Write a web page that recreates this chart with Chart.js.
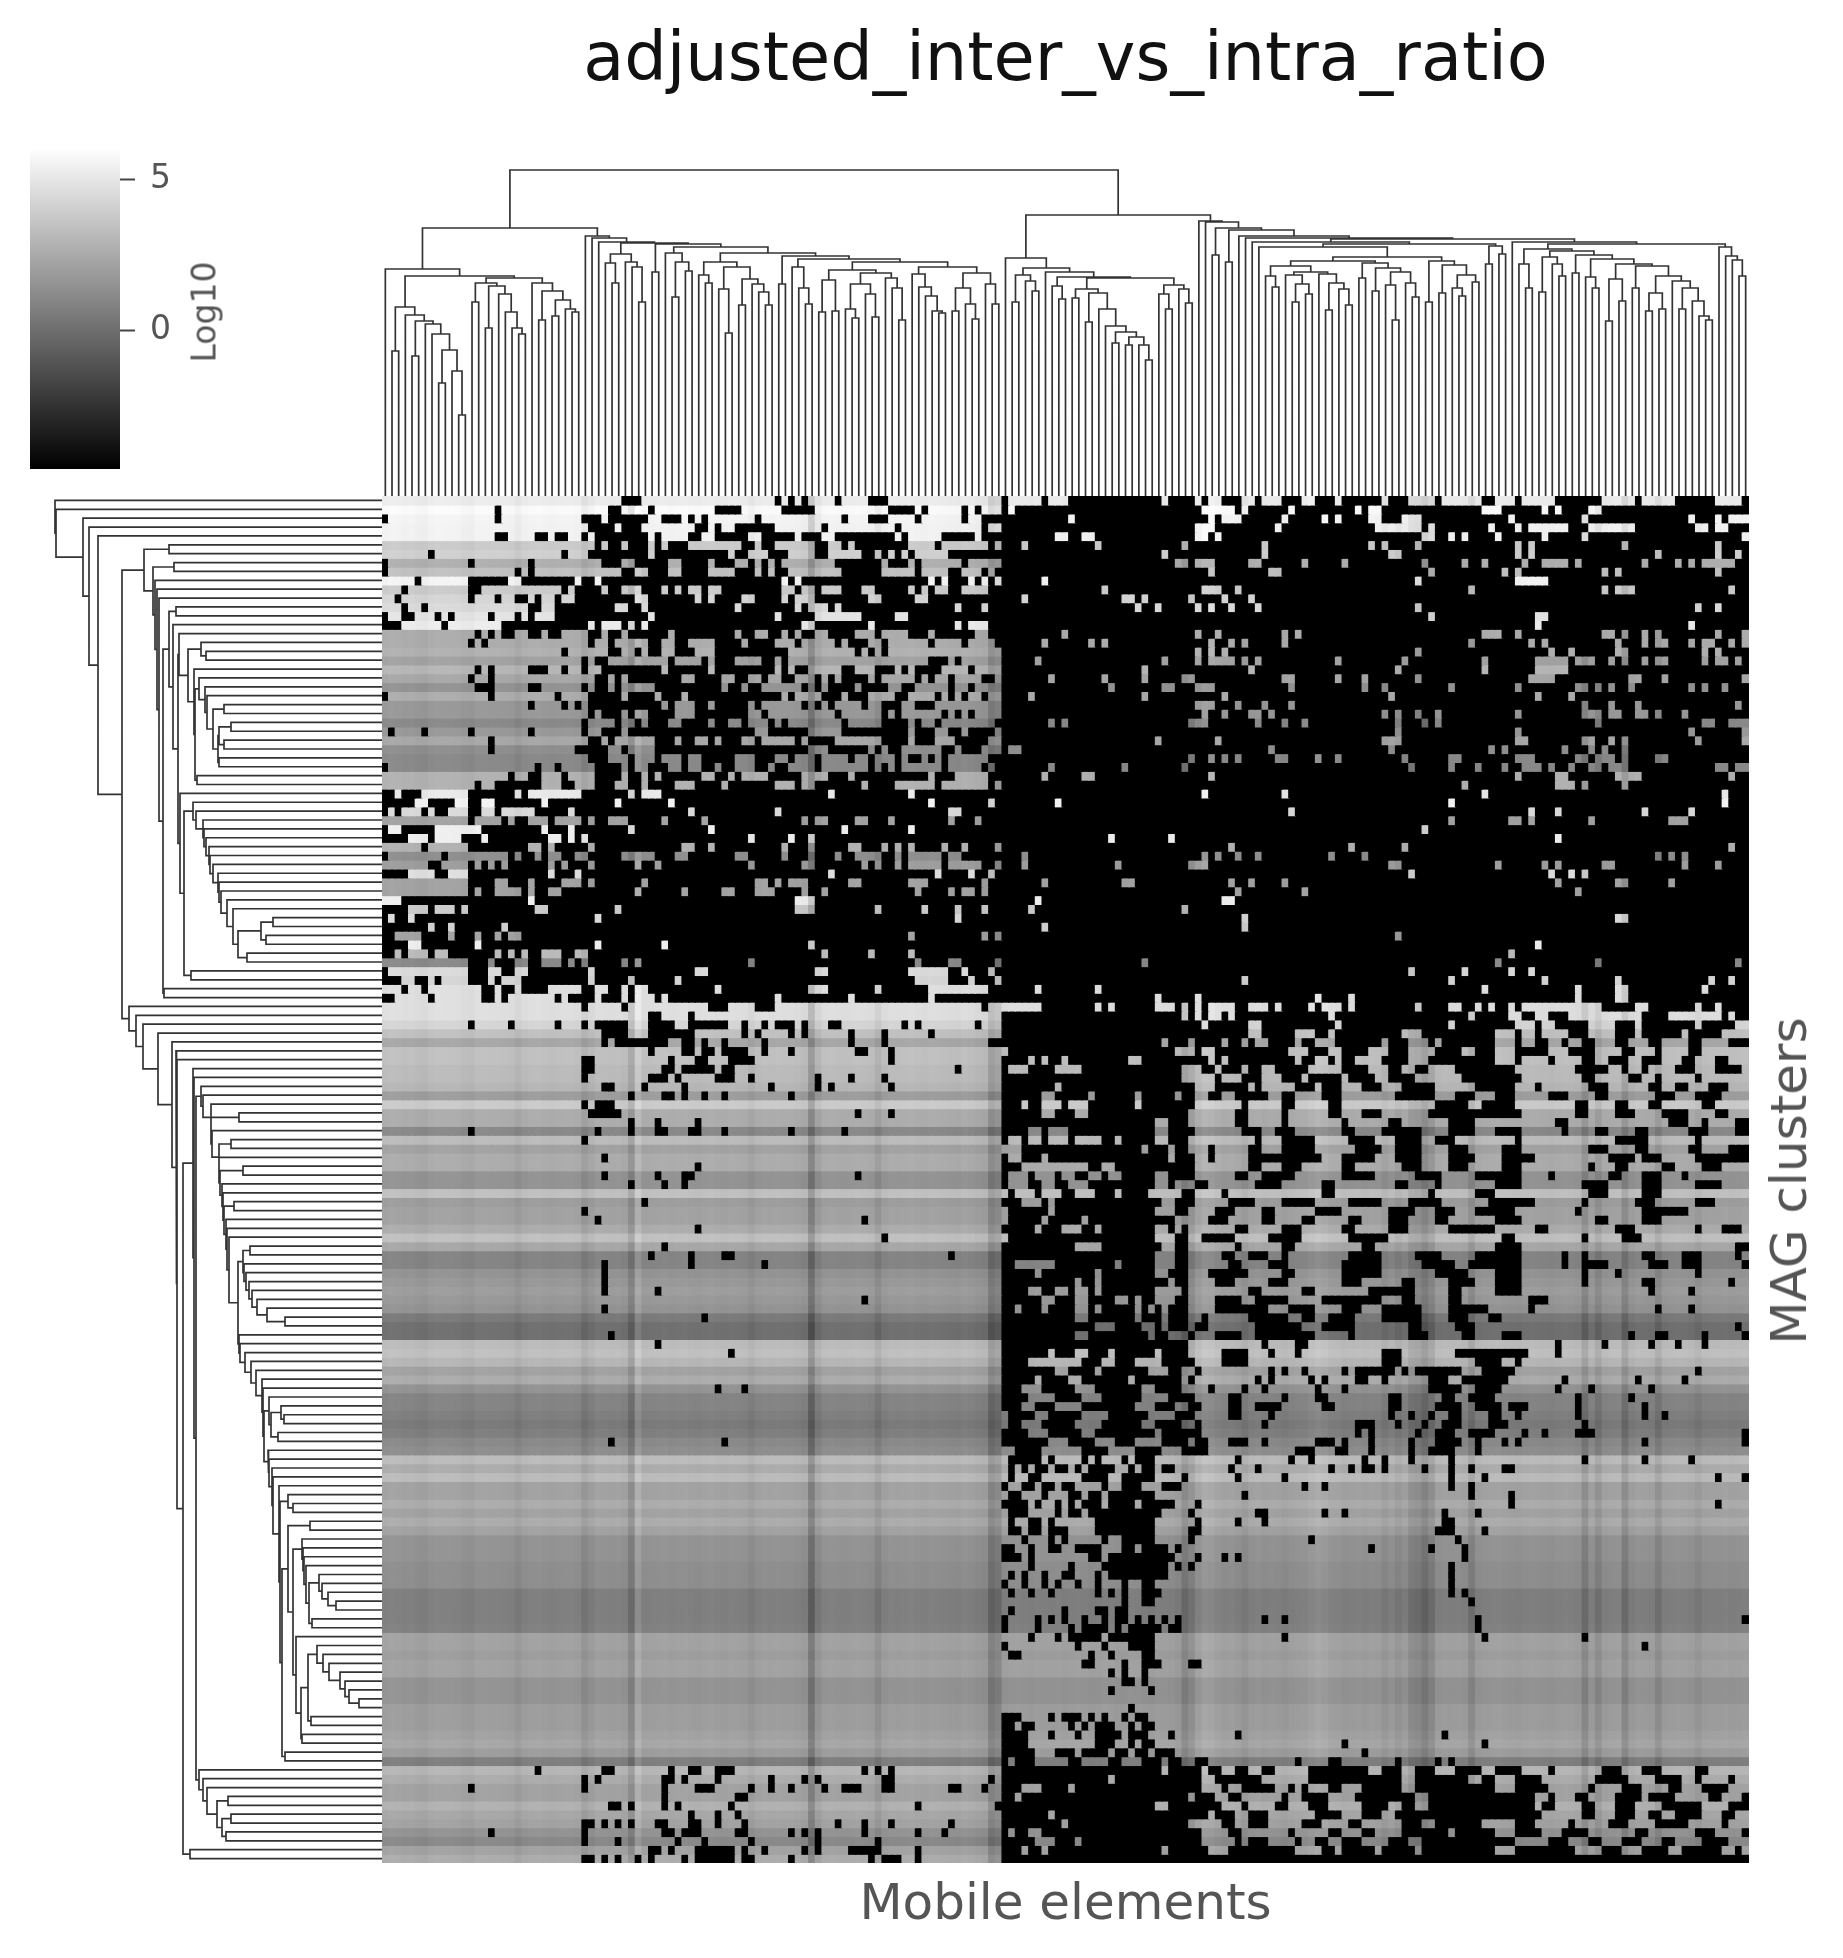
<!DOCTYPE html>
<html>
<head>
<meta charset="utf-8">
<title>adjusted_inter_vs_intra_ratio</title>
<script src="https://cdn.jsdelivr.net/npm/chart.js@4"></script>
<style>
  body { margin: 0; background: #fff; overflow: hidden; }
  canvas { position: absolute; }
  .side-label { position: absolute; color: #555; font-family: "DejaVu Sans"; white-space: nowrap; transform: translate(-50%, -50%) rotate(-90deg); }
</style>
</head>
<body>
<canvas id="heat" width="1843" height="1958" style="left:0;top:0"></canvas>
<canvas id="top-tree" width="1367" height="346" style="left:382px;top:150px"></canvas>
<canvas id="left-tree" width="342" height="1367" style="left:40px;top:496px"></canvas>
<canvas id="colorbar" width="160" height="342" style="left:30px;top:138px"></canvas>
<div class="side-label" style="left:204px;top:312px;font-size:33px">Log10</div>
<div class="side-label" style="left:1789px;top:1181px;font-size:50px">MAG clusters</div>
<script>
const titleText = "adjusted_inter_vs_intra_ratio";
const xTitle = "Mobile elements";
const colorbarTicks = [5, 0];
const colorbarMin = -4.57;
const colorbarMax = 6.03;

//Grey shade of each row (154 MAG clusters)
const rowShade = [
  238,252,246,244,244,205,210,178,195,245, 205,215,220,230,238,175,175,180,165,185,
  170,150,175,155,155,140,155,170,145,140, 140,180,180,235,245,220,165,240,240,180,
  145,160,225,165,165,240,205,220,210,165, 240,190,140,220,215,225,225,225,225,
  215,195,170,195,195,190,190,185,160,205, 175,175,140,190,165,175,175,150,150,195,
  160,165,165,175,195,170,135,135,150,155, 160,155,150,125,115,115,190,195,185,165,
  175,150,135,135,130,125,130,140,145,190, 175,190,165,165,175,165,175,165,150,150,
  150,145,145,145,130,130,130,130,132,165, 165,160,165,165,150,150,150,160,160,160,
  165,170,160,130, 185,175,165,165,180,170,165,150,140,165,175
];

//How much lighter or darker each column is than its row (205 mobile elements)
const colShade = [
  -2,0,-1,-3,-2,-5,-6,-2,0,-1,-1,-2,-5,-6,-1,-1,-2,-2,-3,-4,
  -10,-4,-2,-1,-3,-4,-3,-2,-2,-4,-15,-8,-2,-3,-4,-3,-6,-25,10,-4,
  -3,-2,-1,-3,-2,-1,-3,-4,-2,-1,-3,-4,-2,-3,-4,-10,-4,-2,-3,-2,
  -3,-3,-5,-8,-40,-12,-3,-2,-3,-4,-3,-2,-3,-5,-16,-5,-2,-3,-2,-1,
  -3,-4,-2,-3,-4,-5,-6,-3,-5,-8,-10,-35,-28,-6,-4,-3,-4,-5,-3,-4,
  -4,-3,-5,-4,-3,-4,-6,-5,-3,-4,-6,-5,-3,-4,-6,-7,-4,-5,-6,-10,
  -28,-18,-2,6,4,-1,-4,-3,-6,-12,-5,-3,-6,-4,-5,-8,-5,-3,-2,2,
  6,3,-2,-3,-6,-5,-4,-6,-4,-5,-12,-6,-14,-8,-22,-25,-35,-24,-6,-4,
  -5,-4,-6,-22,-6,-4,-3,-2,-4,-5,-6,-4,-3,-4,-5,-6,-4,-3,-4,-6,
  -25,-6,-20,-6,-4,-3,-25,-8,-4,-5,-6,-20,-6,-4,-3,-4,-6,-12,-5,-4,
  -4,-3,-5,-4,-3
];

//Cells at the bottom of the colour scale, one string per row, as column spans
const blackRuns = [
  "36-38 59 61 63 68 73-75 93 99 103-116 118-121 123 126-128 131 135-137 140-142 144-149 151-153 158 165-166 170 176-182 188 194-199 204",
  "17 34-35 40 50-53 60-64 76-79 81 87 89 93-204",
  "0 17 30-32 34-39 42-44 46 48 56 69 73-75 80 87 90-204",
  "31-34 36-38 47-48 50 53-58 66 77 90 93-204",
  "17-18 23-24 26-27 30 32-39 41 46-47 50-54 57-61 63-65 68-76 78 84-88 90-204",
  "32 34-35 37-39 41 43-45 54-55 57-58 65-66 69 71-78 83 91 93-204",
  "7 27 31-39 41-51 53-54 58-60 65-66 72-73 75 77 79 85-204",
  "0 13 22 33-35 38-42 45-48 50-52 55 57 59 68-74 76-78 80 87 93-204",
  "0 20 22 36-37 40-42 45-48 53-55 57 59-60 69-74 80 85-86 90 92-204",
  "5 13-18 21-28 30-31 33-59 61 63-81 83 85-87 89 91 93-204",
  "3 13-14 27 29-32 34-35 39-41 43 45 48 51-59 62 65 69-71 74-78 80 82 85-86 91-204",
  "2 13 17 20-21 23 26 29-37 40-46 48 50-53 56-59 61 65-72 75-79 82-204",
  "3 6 22-23 26-34 37-38 40-52 54-61 63 67 69-85 87-89 91-204",
  "0 3-4 8 10 16 20 22 26-39 41-58 60-64 72-76 79-204",
  "0-2 9 18-30 32 36 38 40-62 65-72 74-85 87 91-204",
  "14 16 18-19 22-23 25-26 31-32 34-35 37-42 44-52 54-55 58-59 61 63-64 67-70 74 79-81 83-88 91-204",
  "13 15 31 34 40-41 44-45 50-53 55-58 62 68 70-72 75 82 87 92-204",
  "27 34-35 38 40-41 44-46 50-60 71 73 75 93-204",
  "30 32-33 43 48 50-52 57-58 60 82-84 86 93-204",
  "14 16 22-24 27 30 33-41 43-48 50-58 60 62-63 69-70 74-76 78 80-83 88 93-204",
  "13 16 32-33 35 37-40 41-44 47-50 53-54 57 60-61 65 67 69-72 74 80 82 85 90-91 93-204",
  "14-16 22-23 30 32-33 35 41-50 52-53 55-56 63 65 67-70 72-75 78-79 85 88 93-204",
  "0 16 26 31-35 37-40 42-44 46-59 61 66-68 70-72 77-78 83 85 87 90 93-204",
  "22 27 29 31-41 43 47-48 50-54 56 63 65 67 72 75-77 80-82 93-204",
  "31 33-35 37 40-43 47-54 57 68 75 77 84 86 88 93-204",
  "30 35 38 40-42 45-48 50-51 54 58 60 69 75-78 80 83 92-204",
  "1 6 13 22 30 33-35 37-55 58-63 69-78 80-82 85-86 88-91 93-204",
  "16 31-32 34 41-43 45-46 49 51-53 56 62 64-67 75-78 80-82 86-90 93-204",
  "16 29-33 36 41-50 51-61 62-63 67-72 74 76-77 84-85 87-89 93-204",
  "31-33 37 41 45 48-52 56-58 61 65 70 73 77 79-80 82 84 91-204",
  "0 23 26 32-35 37 40-42 45 48-49 51-52 56-57 59-60 65 73 75 77 84 90 92-204",
  "19 22-23 27 32-35 37-38 40 42-47 50-51 53 58-60 61-62 67-69 71-81 83-85 91-204",
  "14 17-23 27-28 32-34 37-38 40-43 47-50 52-58 62 65-71 73-76 83 91 93-204",
  "0-1 3-5 13-19 21 30-36 38 42-66 68-78 80-204",
  "0-4 7-10 13-14 17-23 25-34 36-42 44-81 83-90 92-204",
  "0 2 6 8-9 13-14 17 23-27 29-45 47-58 60-84 87-204",
  "13 18 20-21 25 30 32-33 37-41 43-47 49-62 64 67-70 73-75 77-84 86-88 90-204",
  "0 3-7 15-23 25-27 29-36 38-48 50-68 70-78 80-204",
  "0-3 7 12-14 16-24 27 29 31-54 56-60 62-63 65-204",
  "6 13-21 24 26-30 32-44 47-48 50-59 61-63 65-69 72-74 76 78 80-83 85-86 88-91 93-204",
  "0 9 19 21-22 24 27-28 31-35 41-43 46-52 55-59 61-63 65-67 69-70 75-76 78 84 87-204",
  "7-8 13 15 17 19-24 26 28-30 32-37 39-40 42-54 56-62 65-71 73 75-76 78 84 90-91 93-204",
  "0-3 8-9 13-24 26-28 30-66 68-82 84-87 89-90 92-204",
  "13-16 19-21 23-26 30 32-38 40-55 58 60 64-69 72-78 82-89 91-204",
  "13 15-16 21 23-24 27-37 39-44 46-50 53-55 59-62 64-65 67-79 81-84 86 89 91-204",
  "3-21 23-61 65-204",
  "0-3 7 11 13-22 25-34 36-61 65-73 75-80 82-85 87-89 91-204",
  "0 2-3 5-31 33-85 87-204",
  "0-6 8-9 11-17 19-204",
  "0-1 6-9 11-13 15-16 18 21-78 80-89 91 93-204",
  "0-3 6-13 15-31 33-41 43-63 65-204",
  "0-1 3 7 10-16 18 20 22-23 27-28 31-65 67-72 74-78 80-204",
  "13-15 17-19 22-23 27 29 31-35 37 39-54 56-79 81-84 87-91 93-204",
  "0 13-15 18-19 22-30 32-46 49-64 67-78 85-86 88-90 92-204",
  "0-2 5-6 8 13-15 17 21-26 27-30 32-36 38-43 45-79 85-87 89-91 93-204",
  "3 6 15-16 18-19 21-24 30-31 34-35 37 40-49 51-63 67-73 75-81 91-204",
  "0-1 7 15-16 18 26 28-31 33-35 37 41 43-58 60-69 71-81 83-204",
  "30 36 49-51 56-58 90 93-204",
  "40-41 46 93-204",
  "13 19 26 30 32-36 40-43 46-51 54 57 59-61 63 67-68 78 80 89 93-204",
  "33-36 40-46 54 56 61 63 70 75 82 93-204",
  "33 35-42 45-46 48 51 57 70 75 91-204",
  "40 45-46 48-49 51-54 57 61 71-72 76 93-204",
  "30-31 43 47-48 52-55 76 93-204",
  "30-31 42-43 45-49 51-52 86 93-204",
  "30 40-42 44 50-52 55 65 70 75 93-204",
  "33-34 39 45 58 65 67 76 93-204",
  "37 42-43 45 48 51 61 93-204",
  "30 32-34 93-204",
  "31-35 71 76 93-204",
  "37 41 47 93-204",
  "13 32 37 41-42 46-47 51 61 69 93-204",
  "30 93-204",
  "93-204",
  "33 93-204",
  "47 93-204",
  "33 41 45-46 71 93-204",
  "37 42 45 93-204",
  "93-204",
  "39 93-204",
  "30 93-204",
  "32 72 93-204",
  "47 93-204",
  "75 93-204",
  "42 93-204",
  "40 46 51-52 85 93-204",
  "33 46 57 93-204",
  "33 93-204",
  "33 93-204",
  "33 41 93-204",
  "72 93-204",
  "33 93-204",
  "48 93-204",
  "93-204",
  "34 93-204",
  "41 93-120 132 137-138 176 183 190 194 198",
  "52 93-99 101-103 106-108 110-115 117-120 126-129 133 137 150-152 161-171 176",
  "93-96 105-107 110-112 117-121 126-129 150-152 164-167 170",
  "93-100 103-106 108-114 118-119 122 133 135 138 144 146-148 149-151 153 155-157 158-161 165-169 197",
  "93-97 99-102 105-111 113-119 121 131 133 139 141 146-147 150 157-159 162-168 177 188 195",
  "50 54 93-95 99-103 107-113 116-119 124 129 132 140 144 157-161 164-167 176 181 190",
  "93-96 101-104 108-113 118-121 127-128 135 140-141 151-152 159-160 163-166 179 187",
  "93-95 98-100 105-112 116-118 121-122 127-128 131-134 141-142 151-152 158-161 164-167 169-171 179 189",
  "94-97 100-104 109-114 119-121 127-128 133 151 154 157 160-161 166-167 170 179 189 192",
  "94-95 99-103 108-113 116-119 122 132 146-148 152 156 159-161 166-168 180",
  "93-96 100-104 107-115 117-122 146 148 155 158-160 163-166 171 174 179-181 204",
  "34 51 93-99 103-106 110-112 117-120 122-123 127-129 132 140-142 144 148 154 158-161 164 168 170 189 204",
  "95-98 105-108 113-116 120-123 137-139 143-144 148 154 157-160 164",
  "94-98 100 105 107 111 113-115 128 136 139 147 150 154 160 180 189 196",
  "94 96 98-99 101-102 104 106-109 112 114-115 117-118 127 131 142 145 147-148 150 156 160 163 168-169",
  "94 97-98 105-108 111-115 120 128 135 160 165 200 204",
  "93 96-97 99-100 102-103 108 111-113 117-119 138 141 160 163",
  "94-95 99 103-104 106-107 109-115 129 163 169",
  "93-96 98 101 103 105-107 109-112 114-118 122 169 200",
  "94-96 101 103-104 106-116 121 131-132 141 144 159 164",
  "94 97-98 100 107-115 122 128 132 159-160",
  "94-95 97-98 100-102 107-115 121-122 158-160 165",
  "96 100 102 108 111-115 121 139 161",
  "93-94 97 100-101 104-107 111-112 114-117 119 148 157 162",
  "93-95 97 106-107 109-118 122 126 128 162",
  "97 103 108-117 119 121 160",
  "94 96 99 102-103 107 109-117 160",
  "93 96 99 101 104 107 111 114-115 160",
  "94 97 100 107 109 111 114-116 160 162",
  "111 114-115 163",
  "94 102 107-108 110-111",
  "93 98 100 102 105 108 110-111 113 115 117 119 132 135 164 204",
  "93 98 103 105-108 110 112-116 118-119 164",
  "97 101 103-107 109-115 135 165 180",
  "93 104 108 112-115 189",
  "94-95 106 109 114-115",
  "105-106 111 114-116 121-122",
  "109 111 114",
  "111-112 114",
  "109 115",
  "",
  "112",
  "93-95 100 102-104 106 108 111 113-114",
  "93-94 96-97 103 105 107-109 112 114-115",
  "93-96 100 104 107-110 112-114 118 128 159",
  "93-96 107-109 112 114-115 144 165",
  "93-97 101-103 105-108 110-111 113-114 116-118 147",
  "93-97 103-104 109-110 114-116 118-119 122-123 128 131 137 142-143 148 152 158-160 168",
  "23 33-34 43 46-47 50-52 72 74 76 93-204",
  "30 32 42-43 45 50 58 63 65 75-76 91 93-204",
  "13 30 42 47-49 55 58 61 66 69-71 75-76 85-86 90 93-204",
  "42 53-54 93-204",
  "34-35 37 42 44 52 80 92-204",
  "46 50 53 93-204",
  "30-31 33 35 37 41-42 46-47 50 54 68 72 76 85 93-204",
  "16 30 42-43 45-47 53-54 61 63 65 72 80 84 93-204",
  "30 35 44 48 55 65 74 93-204",
  "40-41 43 47-52 54 57 63 65 70-74 80 93-204",
  "30-31 33 35 38 40 45 47-52 54-55 61 73 75-77 80 93-204"
];

//Lit cells inside the black spans above, same format
const litRuns = [
  "",
  "94 123-127 129 136 146 148-149 165-167 174 176 181-182",
  "103 124 126-128 135 141 143 148-149 153-155 169 180 196 200 202-204",
  "122-123 124 134 149-155 157 166 170 172-177 181-187 197-198 200-201",
  "101-102 105-106 122-123 125 156-157 160 162 167 174 180 204",
  "96 107 120 132 148 150 155 170 172 186 200",
  "117 132 151-152 170 172 191 200 203",
  "119-120 122-124 130-131 138 144 156 162 165 171 174-177 179 189 194 196 198-202",
  "124 133-134 157 168 170 183 185 200",
  "99 155 170-174",
  "108 123-125 128 163 183 185-187 202",
  "96 111-112 114 121 126 130",
  "113 116 122 124 127 131 155 197 200",
  "157 173-174",
  "173 196",
  "102 122 125 135 137 165-167 170 183-184 186 189 191 200 204",
  "99 106 108 124 127 129 135 163 172 174 185 189 191-192 196 198-199 202 204",
  "122 124 126 155 175 178 185-186 198 200",
  "98 117 122 124-127 129 131 143 153 165 173-177 179-181 184 186 189 191-192 198 200-201 203",
  "114 130 152 165 173-177",
  "100 108 114 120-121 135-136 143 147 155 172-175 187-188 192 204",
  "109 117-118 122-124 136 147 150 160 170 179-180 182 184 187 196 198 201",
  "97 114 126 151 173 178",
  "122-124 128 132 136 180 184 188 203",
  "123 126 130-131 133 150 152 155 158 170 180-182 184-185 188-189 191 195",
  "100 102 121-123 131 135 138 152 156 158 182 198-199 202-204",
  "152 170 196 204",
  "116 125 150-152 170-171 180-181 184 186 197 204",
  "94-95 133 151 166 168 177 181 183 186",
  "121 124 126 128 134-135 140 143 153 160-161 170-172 179-180 182-184 186 191-192",
  "100 111 120 154 160 164 168 171-173 175 178 181-182 184-186 200-201 203-204",
  "99 105-106 124 170 176-177 185-188 202",
  "162 176-178 180 186",
  "123 135 165 201",
  "101 160 201",
  "136 172 176 189 196",
  "160 169-170 172 181 193-195",
  "156",
  "109 118 176",
  "127 145 153 202",
  "96 123 125 128 131 142 147 191 193 195",
  "96 110 121-123 151-152 167 174 176 183-184 195 200",
  "154 175 178 180",
  "99 111-112 127 130 135 176 185-186 193",
  "128 138 179",
  "98 126-127",
  "97 120",
  "129 185-186",
  "99 129",
  "152",
  "173",
  "169",
  "114 167 182 203",
  "154 162 169 172",
  "129 160 174 185 199 202",
  "98 107 165 179 185-186 198",
  "116 122 140 145 179 185-186",
  "93-98 107 109 116-118 120 122 124-127 130-132 134 139 141-143 145 155 160-161 164 166 169 171-182 188-189 197 200",
  "120 122 124-125 127 142 163 169-170 173-174 178-188 193-200 202",
  "123 130-131 143 160 170-172 174-175 181-184 188 197 203-204",
  "130-131 137-139 142 153-155 167-169 171-172 174-177 181-184 188 195 201-204",
  "117 121 126 129 131-132 137 140-142 150 154-156 158 167-169 171-172 175-176 178-179 182-184 187-189 192-195 198-201",
  "93 119-121 123-124 136-138 142-143 148-150 154-157 162-163 167-169 175-177 182-185 188-190 192-195 198-204",
  "97 99 102 112-113 124 126 137 140-141 143 146-149 154-156 167-169 171-174 176-179 182-183 187-188 192-194 197-199 202-204",
  "94-96 101-104 120-122 125 129 132-133 139-143 148-150 153-154 157-160 170-178 184-185 187-188 190-193 197-199 204",
  "120-124 126-128 132-134 138 144 149-150 155-161 171-179 182-186 189-190 192-196 198-204",
  "101 122-124 130 132-136 140 144-146 150-152 158-163 170-172 174-180 184-189 192-193 196-198 202-204",
  "99-100 106 113 119 122-123 126-127 133-134 137-140 144-151 158-160 164-166 170-174 178-181 184-190 194-196 201-204",
  "96 99-101 103-105 113 122-128 130-134 137-141 144-157 163-164 170-178 181-184 187-189 192-197 200-204",
  "99-100 104-105 121-127 130-134 136-141 144-146 150-156 171-178 181-184 188-191 196-199 202-204",
  "116-117 121-127 130-134 136-143 145-150 153-159 164-175 178-192 196-197 199-202",
  "97-98 100-102 116-117 122-128 132-133 137-143 146-149 156-159 164-166 171-176 178-181 184-187 190-195 199-202",
  "94-95 97-98 100-102 104-107 110 116-117 121-130 132-134 140-144 149-151 156-157 161-169 171-184 190-196 198-204",
  "93-95 114 118 121-123 125-129 132-134 140-145 150-151 156-159 163-167 171-180 184-187 190-195 198-201",
  "94-95 99 118 122-123 125-129 141-143 149-151 156-159 164-167 173-183 188 192-196",
  "96-105 108-109 122-129 132-134 138-143 146-152 156-159 163-167 171-180 182-184 187-191 194-197 201-204",
  "94-96 98-100 102-103 106-107 109-110 116-117 122-127 130-131 137-143 149-154 159-163 171-174 176-183 186-188 192-194 196-204",
  "94-96 99-100 103-105 116-117 119-121 124-130 135-140 143-151 154-157 159-166 171-179 184-188 192-196 201-204",
  "93 95-97 99-101 104-106 110 115-119 122-125 127-140 143-156 158-163 167-180 184-188 192-204",
  "96-98 100 117-118 122-126 131-134 140-144 150-153 159-165 173-179 181-187 191-196 200-204",
  "93 100 116-118 121-124 128-131 134-139 144-150 155-157 161-163 170-178 180-188 196-204",
  "93 99 105 119-123 127-131 134-137 140-144 147-150 154-157 160-166 171-181 184-188 192-204",
  "98 102-104 107 116-117 119 121-127 130-134 138-143 146-150 154-159 167-172 175-184 188-196 198-200 204",
  "93 116-118 121-122 128-132 138-144 151-167 170-179 181-185 189-204",
  "104-107 117-118 121-127 129-134 137-146 149-166 171-202",
  "116-118 121-125 128-129 133-134 136-144 150-154 159-163 171-176 178-179 181-188 191-194 198-202 204",
  "95-100 110 116-118 121-126 129-132 136-143 150-155 161-162 171-176 178-179 184-189 193-194 198-203",
  "98 107 116-117 121-123 130-134 137-143 150-157 163-166 171-179 181-184 186-196 198-204",
  "104 107 118 121-124 128-132 136-143 147-152 155-159 164-166 171-179 181-188 191-201 203-204",
  "97-98 101-102 104-105 107 116-119 121-129 132-137 140-147 155-159 162-166 171-180 181-189 191-195 197-204",
  "99-100 104-105 110-111 113 116-118 121-124 129-130 136-140 150-152 155-159 162-171 175-204",
  "95 99 104-105 107 113 115 117 121-124 133-135 140-143 147-149 156-159 166-171 173-190 192-195 197-204",
  "104-105 113 117 121-122 124-129 136-137 140-141 146-149 156-159 163-165 168-204",
  "107-109 114-115 117 121 124-130 138-140 146-153 156-160 164-180 181-196 197-202 204",
  "104-105 115 118-120 122-124 129-130 140-144 146-153 157-161 164-167 171-186 188-190 193-197 199-203",
  "","","","","","","","","","","","","","","","","","","","","","","","",
  "","","","","","","","","","","","","","","","","","","","","","","",
  "94 117 125-128 130-135 139-141 148-150 153-156 159 165-169 171-175 178-182 185-186 192-194 200-204",
  "117 123 126-127 130-131 134-138 148-149 153-154 158-160 165-166 171-174 176-182 186-188 192-196 199-204",
  "109 123-124 132-138 153-154 163-164 167-169 174-181 187-190 195-196 198-201 203-204",
  "96-98 103 123-125 127-128 134-135 137 139-141 144-146 153-154 167-169 175-180 182-185 189-192 195-197 202-204",
  "95 121 125-126 129-134 136-137 142-145 155-156 173-174 176-178 181-184 189 194-198 201-203",
  "116-117 126-128 130-133 136-138 142-146 151-152 155-156 173 176-179 182-184 188-191 198-201",
  "100 124 128-129 133-139 144-146 150-151 174-179 182-184 188-189 192-193 198-200 203-204",
  "102 121-125 128-129 133-137 141-144 147-152 156-157 165-169 173-177 179-183 187-190 196-200 202-204",
  "94 97-98 123-126 129-135 137-141 144-146 149-152 160 167-169 174-176 181-187 190-196 200-203",
  "98-100 104 123-127 129 133-136 138-139 142-143 147-150 154-155 170-174 178-180 183-185 189-191 194-197 202-204",
  "96 99 117 124-126 137-140 143 149 155 167-169 179-182 186-188 193-194 201-202 204"
];

//Top dendrogram: nested merges, "." is a leaf, the number after ")" is the merge height
const topTreeLeft = "(.(((..)145(.((..)140(.(.((..)113(.(..)81)125)146)162)172)175)181)189" +
  "(((..)194((..)168(.(.(.(..)162)168)184)202)210)213(.((..)176((..)180(.(..)184)187)196)205)213)218)220)227";
const topTreeMiddle = "((.(..)213)233(.(.(..)194)229)234)242";
const topTreeChain = "(.((..)199(..)225)234)243";
const topTreeGroup = "(((.(..)213)221((.(..)163)207((..)191(.(.(..)191)204)212)217)229)234" +
  "((..)212((.(.(..)192)208)229" +
  "((((..)184(..)185)216(((.(..)178)187(.(..)179)202)212(.(.(..)176)208)218)223)226" +
  "((.(.(.(.(..)183)185)200)209)222(((..)185(.(..)177)192)208(.(..)192)212)223)229)234)237)240)243";
const topTreeRightA = "(.(((..)194(.(..)205)215)221(.((.(..)197)210" +
  "(((..)198((..)174(.(.((..)153((..)151(.(..)136)151)159)164)170)187)203)207" +
  "((.(..)187)202(.(..)193)207)211)218)219)224)228)238";
const topTreeS = "((((.(..)209)220((.((..)194(..)202)212)221(.((..)186(.(..)191)207)213)222)224)230" +
  "((..)218((..)205((.(..)176)211(.(..)199)213)224)228)233)235" +
  "((..)194((..)203((.(..)200)208(..)214)221)231)235)239";
const topTreeK = "((.(..)208)232(((..)204(.(..)220)232)239((..)223((.(..)208)219" +
  "(((..)175(..)195)217((..)208(((..)185(..)187)203(.((..)187(.(.(..)176)180)195)208)215)220)230)232)237)241)245)247";
const topTreeW = "(.(.(.(..)220)236)240)249";
const topTreeP = "(.((." + topTreeS + ")249((..)232(..)242)250)252)254";
const topTreeQ = "(.(" + topTreeK + topTreeW + ")252)254";
const topTreeRightB = "(.(.((..)241((..)234(.(.(" + topTreeP + topTreeQ + ")257)258)260)266)268)274)275";
const topTree = "((" + topTreeLeft + "(.(.(.(" + topTreeMiddle + "((..)224(" + topTreeChain + topTreeGroup + ")249)252)253)254)258)260)268" +
  "(" + topTreeRightA + topTreeRightB + ")281)326";

//Left dendrogram, same notation, leaves run from the top row to the bottom row
const leftTreeCC = "((..)158(((..)151(..)158)163(..)163)164)169";
const leftTreeW = "((.(..)176)181(.((.(.(." + leftTreeCC + ")175)177)183(..)185)187)188)194";
const leftTreeXX = "((.(.(.(.(.(.(.(.(.(.(.(.(.(((..)109(..)116)121(..)135)144)149)155)161)163)164)169)172)173)176)178)179)186)189(..)191)198";
const leftTreeZ = "(((..)206(.((." + leftTreeW + ")203(." + leftTreeXX + ")202)204)209)213(..)218)219";
const leftTreeL = "((..)213((..)208(.(.(." + leftTreeZ + ")223)225)227)229)238";
const leftTreeY8 = "((..)72((.(.(.(.((.(.(.(..)46)54)60)63(..)70)73)76)78)79)80" +
  "(.(((.(.(.(.(.(.(..)23)33)37)42)53)59)65(..)71)74(..)80)81)86)89)94";
const leftTreeY6 = "(.(.(.(.(.((.(..)89)94(" + leftTreeY8 + "(..)97)100)102)103)109)110)113)114";
const leftTreeY3 = "(.(.(.(.(.(.(.((.((.(..)98)101(..)104)111)113" + leftTreeY6 + ")118)119)120)126)131)137)142)143";
const leftTreeY1 = "(((..)132(.(.(.(.(.(.(..)97)115)125)130)133)136)138)139" + leftTreeY3 + ")144";
const leftTreeM8 = "(.(.((.(.(.((..)143(.((..)151(.((..)139(.(.((..)148(.(.(." + leftTreeY1 +
  ")153)155)156)158)159)160)162)163)163)170)171)171)179)181" +
  "(.(.(.((..)154((..)151(..)156)160)165)175)179)183)186)188)189";
const leftTreeM = "(.(.(.(.(.(.(.(" + leftTreeM8 + "(..)192)199)205)206)210)224)239)246)253";
const leftTree = "(.(.(.(.(.(" + leftTreeL + leftTreeM + ")260)284)293)299)326)327";

Chart.defaults.font.family = "'DejaVu Sans'";
Chart.defaults.animation = false;
Chart.defaults.events = [];
Chart.defaults.devicePixelRatio = 1;
Chart.defaults.plugins.legend.display = false;
Chart.defaults.plugins.tooltip.enabled = false;

//Turn "3 5-7" into the set of columns it names
function expandRuns(text) {
  const cols = new Set();
  text.split(" ").filter((part) => part).forEach((part) => {
    const ends = part.split("-").map(Number);
    for (let c = ends[0]; c <= ends[ends.length - 1]; c++) cols.add(c);
  });
  return cols;
}

//Walk the tree text and collect one U shape per merge
function parseTree(text) {
  const stack = [[]];
  const links = [];
  let leaves = 0;
  let i = 0;
  while (i < text.length) {
    const ch = text[i];
    if (ch === "(") {
      stack.push([]);
      i++;
    } else if (ch === ".") {
      stack[stack.length - 1].push({ pos: leaves + 0.5, height: 0 });
      leaves++;
      i++;
    } else if (ch === ")") {
      i++;
      let number = "";
      while (i < text.length && /[0-9]/.test(text[i])) {
        number += text[i];
        i++;
      }
      const kids = stack.pop();
      const height = Number(number);
      const first = kids[0];
      const last = kids[kids.length - 1];
      links.push([first, last, height]);
      stack[stack.length - 1].push({ pos: (first.pos + last.pos) / 2, height: height });
    } else {
      i++;
    }
  }
  return { links, leaves };
}

function treePoints(tree, toPoint) {
  const points = [];
  tree.links.forEach(([a, b, height]) => {
    points.push(toPoint(a.pos, a.height), toPoint(a.pos, height), toPoint(b.pos, height), toPoint(b.pos, b.height), { x: null, y: null });
  });
  return points;
}

function treeDataset(points) {
  return {
    data: points,
    showLine: true,
    spanGaps: false,
    borderColor: "#333333",
    borderWidth: 1.7,
    pointRadius: 0,
    clip: false,
  };
}

//Heatmap
const colLabels = colShade.map((_, c) => String(c));
const heatDatasets = rowShade.map((shade, r) => {
  const black = expandRuns(blackRuns[r] || "");
  const lit = expandRuns(litRuns[r] || "");
  const colors = colShade.map((shift, c) => {
    if (black.has(c) && !lit.has(c)) return "#000000";
    const grey = Math.max(0, Math.min(255, shade + shift));
    return `rgb(${grey},${grey},${grey})`;
  });
  return {
    data: colShade.map(() => [r, r + 1]),
    backgroundColor: colors,
    borderWidth: 0,
    inflateAmount: 0.7,
    barPercentage: 1,
    categoryPercentage: 1,
    grouped: false,
  };
});

new Chart(document.getElementById("heat"), {
  type: "bar",
  data: { labels: colLabels, datasets: heatDatasets },
  options: {
    responsive: false,
    layout: { padding: { left: 382, right: 94 } },
    plugins: {
      title: {
        display: true,
        text: titleText,
        fullSize: false,
        color: "#111111",
        font: { size: 67, weight: "normal", lineHeight: 1 },
        padding: { top: 29, bottom: 400 },
      },
    },
    scales: {
      x: {
        ticks: { display: false },
        grid: { display: false },
        border: { display: false },
        title: {
          display: true,
          text: xTitle,
          color: "#555555",
          font: { size: 50, lineHeight: 1 },
          padding: { top: 0, bottom: 27 },
        },
        afterFit: (scale) => { scale.height = 95; },
      },
      y: { display: false, reverse: true, min: 0, max: rowShade.length },
    },
  },
});

//Top dendrogram
const topParsed = parseTree(topTree);
new Chart(document.getElementById("top-tree"), {
  type: "scatter",
  data: { datasets: [treeDataset(treePoints(topParsed, (pos, height) => ({ x: pos, y: height })))] },
  options: {
    responsive: false,
    scales: {
      x: { display: false, min: 0, max: topParsed.leaves },
      y: { display: false, min: 0, max: 346 },
    },
  },
});

//Left dendrogram
const leftParsed = parseTree(leftTree);
new Chart(document.getElementById("left-tree"), {
  type: "scatter",
  data: { datasets: [treeDataset(treePoints(leftParsed, (pos, height) => ({ x: height, y: pos })))] },
  options: {
    responsive: false,
    scales: {
      x: { display: false, reverse: true, min: 0, max: 342 },
      y: { display: false, reverse: true, min: 0, max: leftParsed.leaves },
    },
  },
});

//Colour scale
new Chart(document.getElementById("colorbar"), {
  type: "bar",
  data: {
    labels: ["Log10"],
    datasets: [{
      data: [[colorbarMin, colorbarMax]],
      barPercentage: 1,
      categoryPercentage: 1,
      borderWidth: 0,
      backgroundColor: (context) => {
        const area = context.chart.chartArea;
        if (!area) return "#888888";
        const gradient = context.chart.ctx.createLinearGradient(0, area.top, 0, area.bottom);
        gradient.addColorStop(0, "#ffffff");
        gradient.addColorStop(1, "#000000");
        return gradient;
      },
    }],
  },
  options: {
    responsive: false,
    layout: { padding: { top: 10, bottom: 11 } },
    scales: {
      x: { display: false },
      y: {
        position: "right",
        min: colorbarMin,
        max: colorbarMax,
        afterBuildTicks: (axis) => { axis.ticks = colorbarTicks.map((value) => ({ value })); },
        afterFit: (scale) => {
          //labels must not shrink the bar
          scale.width = 70;
          scale.paddingTop = 0;
          scale.paddingBottom = 0;
        },
        border: { display: false },
        grid: { drawOnChartArea: false, tickLength: 15, tickColor: "#444444", tickWidth: 2 },
        ticks: { color: "#555555", font: { size: 33 }, padding: 15 },
      },
    },
  },
});
</script>
</body>
</html>
